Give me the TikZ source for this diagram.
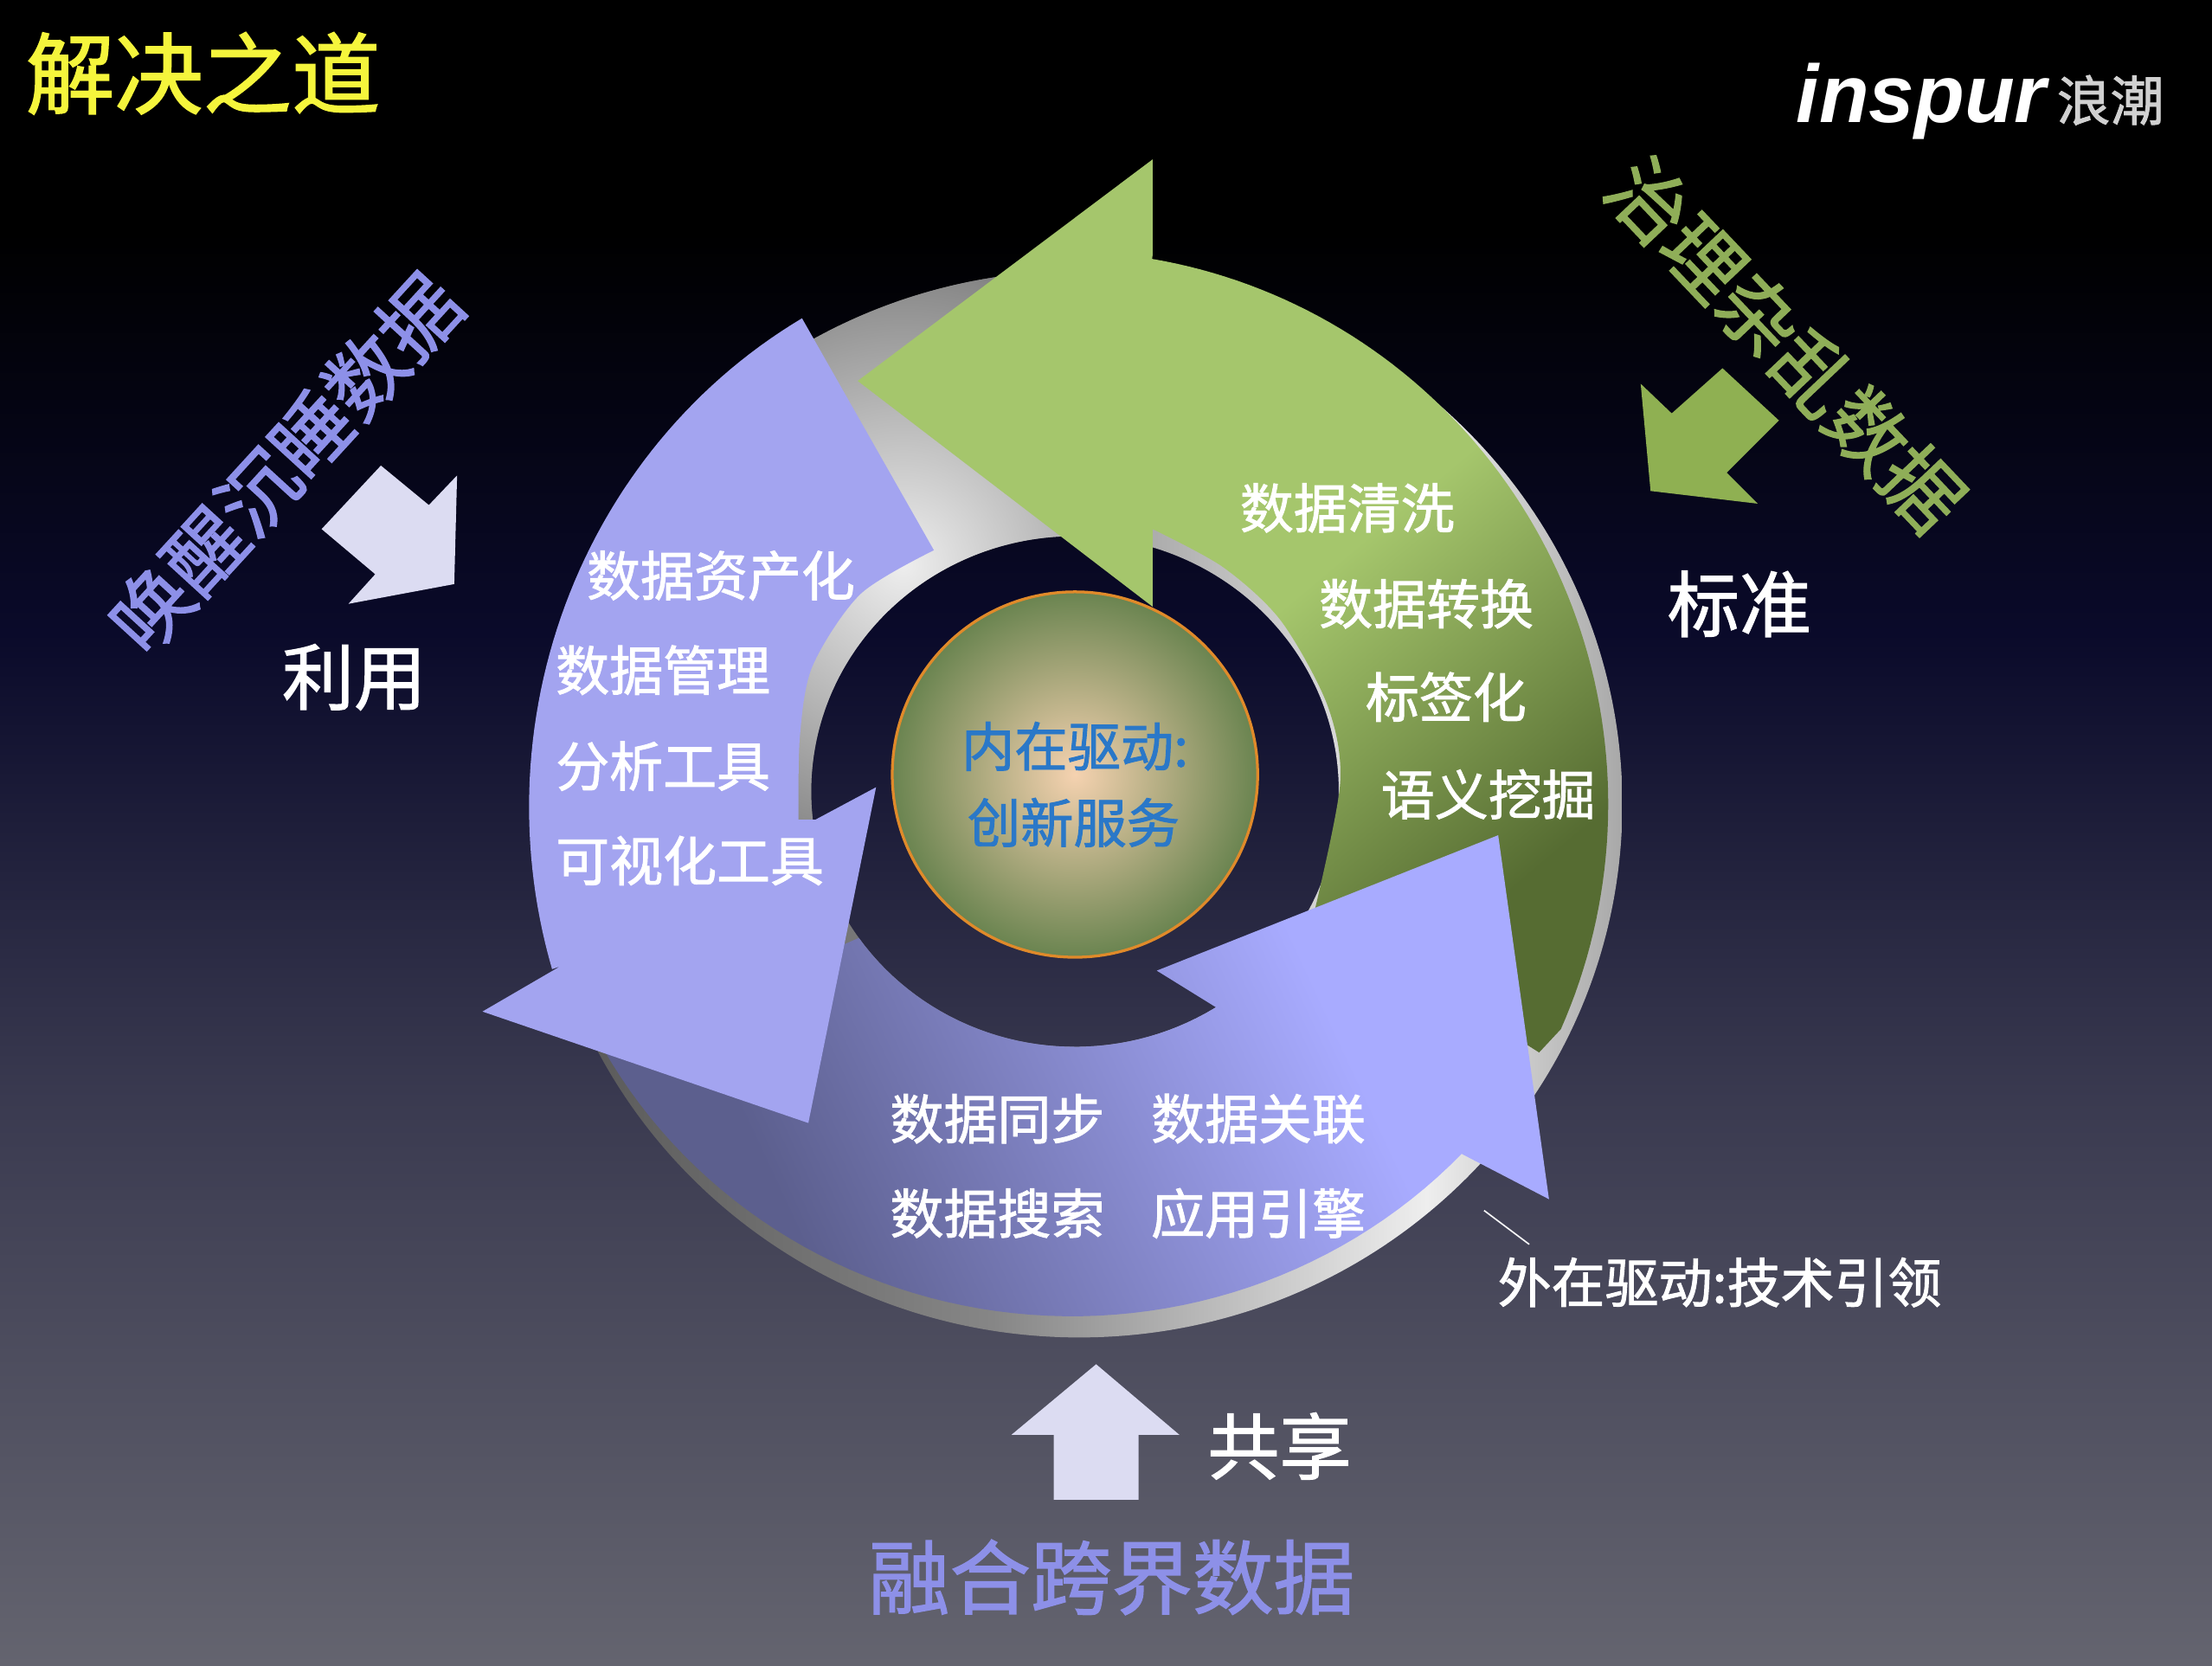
\documentclass[tikz,border=0pt]{standalone}
\usepackage{fontspec}
\setmainfont[FakeBold=1.5]{Noto Sans CJK SC}
\newfontfamily\logofont{Liberation Sans}
\definecolor{bga}{HTML}{000000}
\definecolor{bgb}{HTML}{0A0A2A}
\definecolor{bgc}{HTML}{3A3A50}
\definecolor{bgd}{HTML}{64646F}
\definecolor{gra}{HTML}{A5C66C}
\definecolor{grb}{HTML}{566C32}
\definecolor{pua}{HTML}{5C5F8E}
\definecolor{pub}{HTML}{A8ABFF}
\definecolor{rga}{HTML}{555555}
\definecolor{rgb}{HTML}{868686}
\definecolor{rgc}{HTML}{EEEEEE}
\definecolor{rgd}{HTML}{A8A8A8}
\definecolor{innerglow}{HTML}{F5D2B0}
\definecolor{innerrim}{HTML}{6A8450}
\definecolor{discrim}{HTML}{E08A2A}
\definecolor{titleyellow}{HTML}{F5F53C}
\definecolor{logogrey}{HTML}{D0D0D0}
\pgfdeclareverticalshading{bgsh}{100bp}{color(0bp)=(bgd);color(25bp)=(bgd);color(42bp)=(bgc);color(56bp)=(bgb);color(68bp)=(bga);color(100bp)=(bga)}
\pgfdeclarehorizontalshading{ringsh}{100bp}{color(0bp)=(rga);color(25bp)=(rga);color(46bp)=(rgb);color(66bp)=(rgc);color(75bp)=(rgd);color(100bp)=(rgd)}
\pgfdeclarehorizontalshading{greensh}{100bp}{color(0bp)=(gra);color(52bp)=(gra);color(74bp)=(grb);color(100bp)=(grb)}
\pgfdeclarehorizontalshading{purplesh}{100bp}{color(0bp)=(pua);color(30bp)=(pua);color(66bp)=(pub);color(100bp)=(pub)}
\definecolor{innerblue}{HTML}{2A78C8}
\definecolor{lilac}{HTML}{DCDCF2}
\definecolor{leaf}{HTML}{8FB052}
\definecolor{leaftext}{HTML}{8FAE58}
\definecolor{violet}{HTML}{8D90E8}
\definecolor{solidpurple}{HTML}{A3A4F0}
\tikzset{
  lab/.style={text=white,inner sep=0pt,font=\fontsize{19pt}{20pt}\selectfont},
  biglab/.style={text=white,inner sep=0pt,font=\fontsize{25.5pt}{27pt}\selectfont},
  inner label/.style={text=innerblue,inner sep=0pt,font=\fontsize{18.8pt}{20pt}\selectfont},
  theme/.style={inner sep=0pt,font=\fontsize{28.1pt}{30pt}\selectfont},
}
\begin{document}
\begin{tikzpicture}[x=0.5pt,y=-0.5pt]
\useasboundingbox (0,0) rectangle (1568,1180.3);
\shade[shading=bgsh] (0,0) rectangle (1568,1180.3);

% grey ring
\begin{scope}[even odd rule]
  \clip (765,570) ellipse [x radius=385,y radius=378] (762,561) ellipse [x radius=187,y radius=181];
  \shade[shading=ringsh] (380,192) rectangle (1150,948);
  \clip (500,150) rectangle (817,610);
  \shade[inner color=rgc,outer color=rgb!90!black] (640,400) circle [radius=235];
\end{scope}

% green arrow
\shade[shading=greensh,shading angle=-50]
  (608,270) -- (817,113) -- (817,181)
  -- plot[domain=-80.4:24,samples=80,variable=\t] ({752+388*cos(\t)},{570+392*sin(\t)})
  -- (1091,746) -- (932,645)
  -- plot[smooth] coordinates {(932,645) (950,555) (941,500) (908,440) (867,402) (817,375)}
  -- (817,430) -- cycle;

% bottom purple arrow
\shade[shading=purplesh,shading angle=25]
  (1062,592) -- (820,688) -- (862,714)
  -- plot[domain=58:145,samples=40,variable=\t] ({762+187*cos(\t)},{561+181*sin(\t)})
  -- plot[domain=151:43.4,samples=60,variable=\t] ({760+380*cos(\t)},{565+368*sin(\t)})
  -- (1098,850) -- cycle;

% left purple arrow
\fill[solidpurple]
  (662,390)
  -- plot[smooth] coordinates {(662,390) (610,421) (576,472) (567,522) (566,581)}
  -- (578,581) -- (621,558) -- (573,796) -- (342,717) -- (397,685)
  -- plot[domain=163.3:240,samples=60,variable=\t] ({762+387*cos(\t)},{572+400*sin(\t)})
  -- cycle;

% centre disc
\shade[inner color=innerglow,outer color=innerrim] (762,549) circle [radius=129.5];
\draw[draw=discrim,line width=1pt] (762,549) circle [radius=129.5];

% side arrows
\fill[lilac] (228,375) -- (270,330) -- (304,358) -- (324,337) -- (322,414) -- (247,428) -- (266,407) -- cycle;
\fill[leaf] (1163,272) -- (1170,348) -- (1246,357) -- (1224,335) -- (1261,298) -- (1221,261) -- (1185,293) -- cycle;
\fill[lilac] (777,967) -- (836,1017) -- (807,1017) -- (807,1063) -- (747,1063) -- (747,1017) -- (717,1017) -- cycle;

% labels
\node[inner sep=0pt,text=titleyellow,font=\fontsize{31.4pt}{33pt}\selectfont] (title) at (144,52) {解决之道};
\node[inner sep=0pt,text=white,font=\logofont\bfseries\itshape\fontsize{29pt}{30pt}\selectfont] (logoa) at (1362,72) {inspur};
\node[inner sep=0pt,text=logogrey,font=\fontsize{19pt}{20pt}\selectfont] (logob) at (1496,71) {浪潮};

\node[theme,text=violet,rotate=47.5] (wake) at (202,328) {唤醒沉睡数据};
\node[theme,text=leaftext,rotate=-46.5] (govern) at (1266,244) {治理杂乱数据};
\node[inner sep=0pt,text=violet,font=\fontsize{28.7pt}{30pt}\selectfont] (merge) at (788,1118) {融合跨界数据};

\node[biglab] (use) at (251,480) {利用};
\node[biglab] (std) at (1233,428) {标准};
\node[biglab] (share) at (907,1025) {共享};

\node[lab] (g1) at (955,360) {数据清洗};
\node[lab] (g2) at (1011,428) {数据转换};
\node[lab] (g3) at (1025,494) {标签化};
\node[lab] (g4) at (1055,563) {语义挖掘};

\node[lab] (l1) at (511,408) {数据资产化};
\node[lab] (l2) at (470,475) {数据管理};
\node[lab] (l3) at (470,543) {分析工具};
\node[lab] (l4) at (489,610) {可视化工具};

\node[lab] (b1) at (707,793) {数据同步};
\node[lab] (b2) at (892,793) {数据关联};
\node[lab] (b3) at (707,860) {数据搜索};
\node[lab] (b4) at (892,860) {应用引擎};

\node[inner label] (c1) at (762,529) {内在驱动:};
\node[inner label] (c2) at (761,583) {创新服务};

\node[lab] (ext) at (1219,909) {外在驱动:技术引领};
\coordinate (extA) at (1052,858);
\coordinate (extB) at (1084,882);
\draw[white,line width=0.5pt] (extA) -- (extB);
\end{tikzpicture}
\end{document}
